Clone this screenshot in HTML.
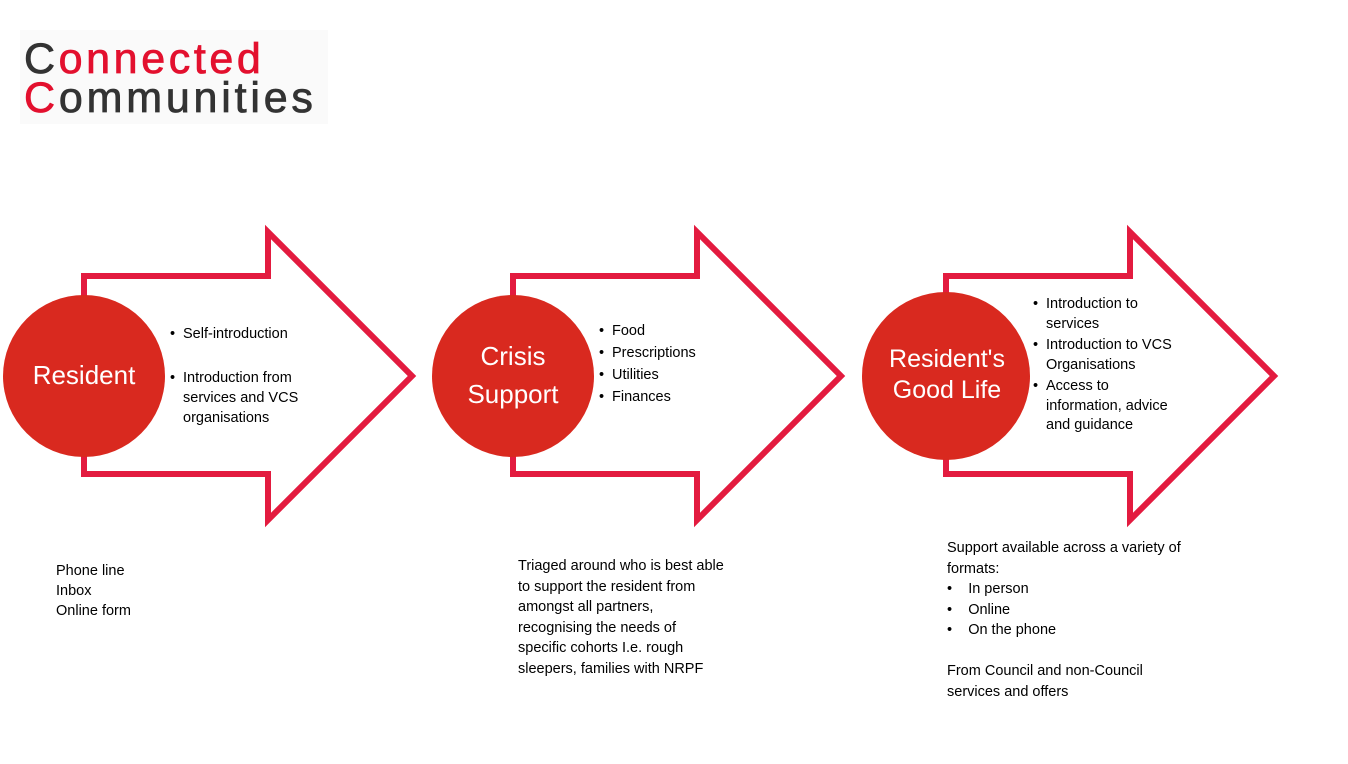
<!DOCTYPE html>
<html><head><meta charset="utf-8"><style>
body{margin:0;width:1348px;height:764px;background:#fff;position:relative;overflow:hidden;font-family:"Liberation Sans",sans-serif;}
.t{position:absolute;font-size:14.5px;color:#000;line-height:20px;}
.c{position:absolute;color:#fff;font-size:26px;text-align:center;line-height:38px;}
ul{margin:0;padding:0;list-style:none}
li{position:relative;padding-left:13px}
li:before{content:"•";position:absolute;left:0}
</style></head><body>
<div style="position:absolute;left:20px;top:30px;width:308px;height:94px;background:#fafafa"></div>
<div style="position:absolute;left:24px;top:38px;font-size:43px;line-height:42px;color:#e3102e;letter-spacing:3.6px;-webkit-text-stroke:0.8px #e3102e"><span style="color:#333;-webkit-text-stroke:0.8px #333">C</span>onnected</div>
<div style="position:absolute;left:24px;top:77px;font-size:43px;line-height:42px;color:#333;letter-spacing:3.8px;-webkit-text-stroke:0.8px #333"><span style="color:#e3102e;-webkit-text-stroke:0.8px #e3102e">C</span>ommunities</div>
<svg width="1348" height="764" style="position:absolute;left:0;top:0">
<g fill="none" stroke="#e31b3f" stroke-width="6" stroke-linejoin="miter">
<polygon points="84,276 268,276 268,232 412,376 268,520 268,474 84,474"/>
<polygon points="513,276 697,276 697,232 841,376 697,520 697,474 513,474"/>
<polygon points="946,276 1130,276 1130,232 1274,376 1130,520 1130,474 946,474"/>
</g>
<g fill="#d9291f">
<circle cx="84" cy="376" r="81"/>
<circle cx="513" cy="376" r="81"/>
<circle cx="946" cy="376" r="84"/>
</g>
</svg>
<div class="c" style="left:3px;top:356px;width:162px">Resident</div>
<div class="c" style="left:432px;top:337px;width:162px">Crisis<br>Support</div>
<div class="c" style="left:862px;top:344px;width:170px;line-height:31px;font-size:25px">Resident's<br>Good Life</div>
<div class="t" style="left:170px;top:324px;width:150px"><ul><li>Self-introduction</li><li style="margin-top:24px">Introduction from services and VCS organisations</li></ul></div>
<div class="t" style="left:599px;top:320px;line-height:22px"><ul><li>Food</li><li>Prescriptions</li><li>Utilities</li><li>Finances</li></ul></div>
<div class="t" style="left:1033px;top:295px;width:150px;line-height:19.5px"><ul><li>Introduction to services</li><li style="margin-top:2px">Introduction to VCS Organisations</li><li style="margin-top:2px">Access to information, advice and guidance</li></ul></div>
<div class="t" style="left:56px;top:561px">Phone line<br>Inbox<br>Online form</div>
<div class="t" style="left:518px;top:556px;white-space:nowrap;line-height:20.5px">Triaged around who is best able<br>to support the resident from<br>amongst all partners,<br>recognising the needs of<br>specific cohorts I.e. rough<br>sleepers, families with NRPF</div>
<div class="t" style="left:947px;top:538px;width:258px;line-height:20.5px">Support available across a variety of formats:<br>•&nbsp;&nbsp;&nbsp;&nbsp;In person<br>•&nbsp;&nbsp;&nbsp;&nbsp;Online<br>•&nbsp;&nbsp;&nbsp;&nbsp;On the phone<br><br>From Council and non-Council<br>services and offers</div>
</body></html>
